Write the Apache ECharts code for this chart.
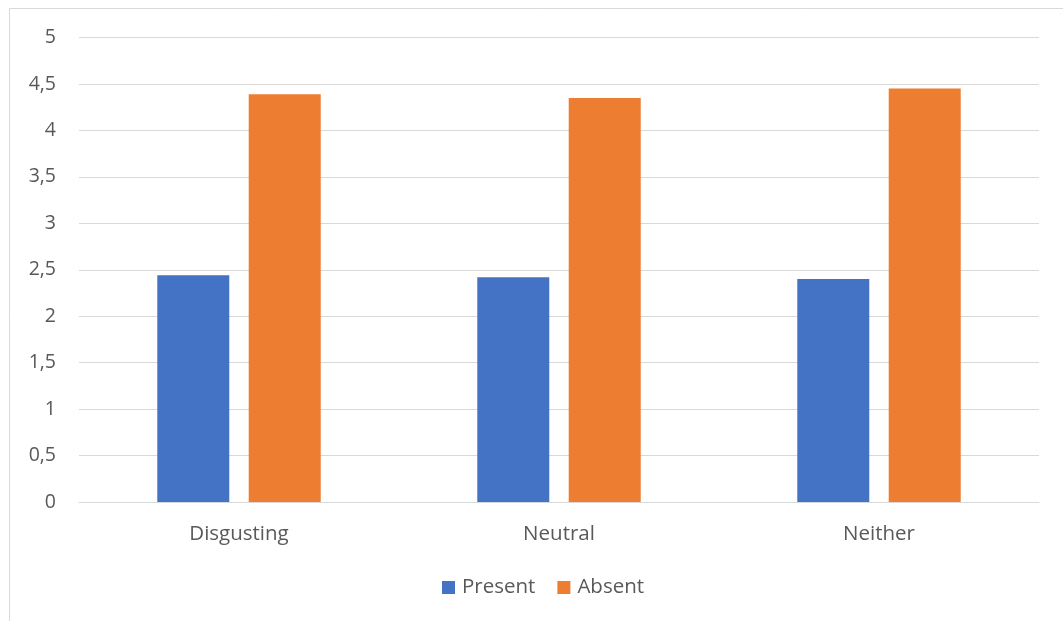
<!DOCTYPE html>
<html>
<head>
<meta charset="utf-8">
<script src="https://cdn.jsdelivr.net/npm/echarts@6/dist/echarts.min.js"></script>
<style>
  html, body { margin: 0; padding: 0; background: #fff; }
  #chart { width: 1063px; height: 621px; }
</style>
</head>
<body>
<div id="chart"></div>
<script>
// Mean ratings per stimulus type
const categories = ['Disgusting', 'Neutral', 'Neither'];
const presentValues = [2.44, 2.42, 2.40];
const absentValues = [4.39, 4.35, 4.45];
const seriesNames = ['Present', 'Absent'];

const textColor = '#595959';
const fontFamily = '"Open Sans", "Liberation Sans", sans-serif';

const chart = echarts.init(document.getElementById('chart'), null, { renderer: 'canvas' });

chart.setOption({
  backgroundColor: '#ffffff',
  animation: false,
  graphic: [{
    type: 'rect',
    shape: { x: 9.5, y: 8.5, width: 1100, height: 700 },
    style: { fill: 'none', stroke: '#d9d9d9', lineWidth: 1 },
    silent: true
  }],
  grid: { left: 79, right: 24, top: 37.5, bottom: 119, containLabel: false },
  legend: {
    data: seriesNames,
    bottom: 23,
    left: 442,
    padding: 0,
    itemWidth: 13,
    itemHeight: 13,
    itemGap: 22,
    icon: 'rect',
    textStyle: { color: textColor, fontSize: 20.5, fontFamily: fontFamily, padding: [0, 0, 0, 2] }
  },
  xAxis: {
    type: 'category',
    data: categories,
    axisLine: { show: true, lineStyle: { color: '#d9d9d9', width: 1 } },
    axisTick: { show: false },
    axisLabel: { color: textColor, fontSize: 20.5, fontFamily: fontFamily, margin: 22 }
  },
  yAxis: {
    type: 'value',
    min: 0,
    max: 5,
    interval: 0.5,
    axisLine: { show: false },
    axisTick: { show: false },
    splitLine: { lineStyle: { color: '#d9d9d9', width: 1 } },
    axisLabel: {
      color: textColor, fontSize: 19.5, fontFamily: fontFamily, margin: 23,
      formatter: v => String(v).replace('.', ',')
    }
  },
  series: [
    {
      name: seriesNames[0], type: 'bar', data: presentValues,
      barWidth: '22.5%', barGap: '27%',
      itemStyle: { color: '#4472c4' }
    },
    {
      name: seriesNames[1], type: 'bar', data: absentValues,
      barWidth: '22.5%', barGap: '27%',
      itemStyle: { color: '#ed7d31' }
    }
  ]
});
</script>
</body>
</html>
